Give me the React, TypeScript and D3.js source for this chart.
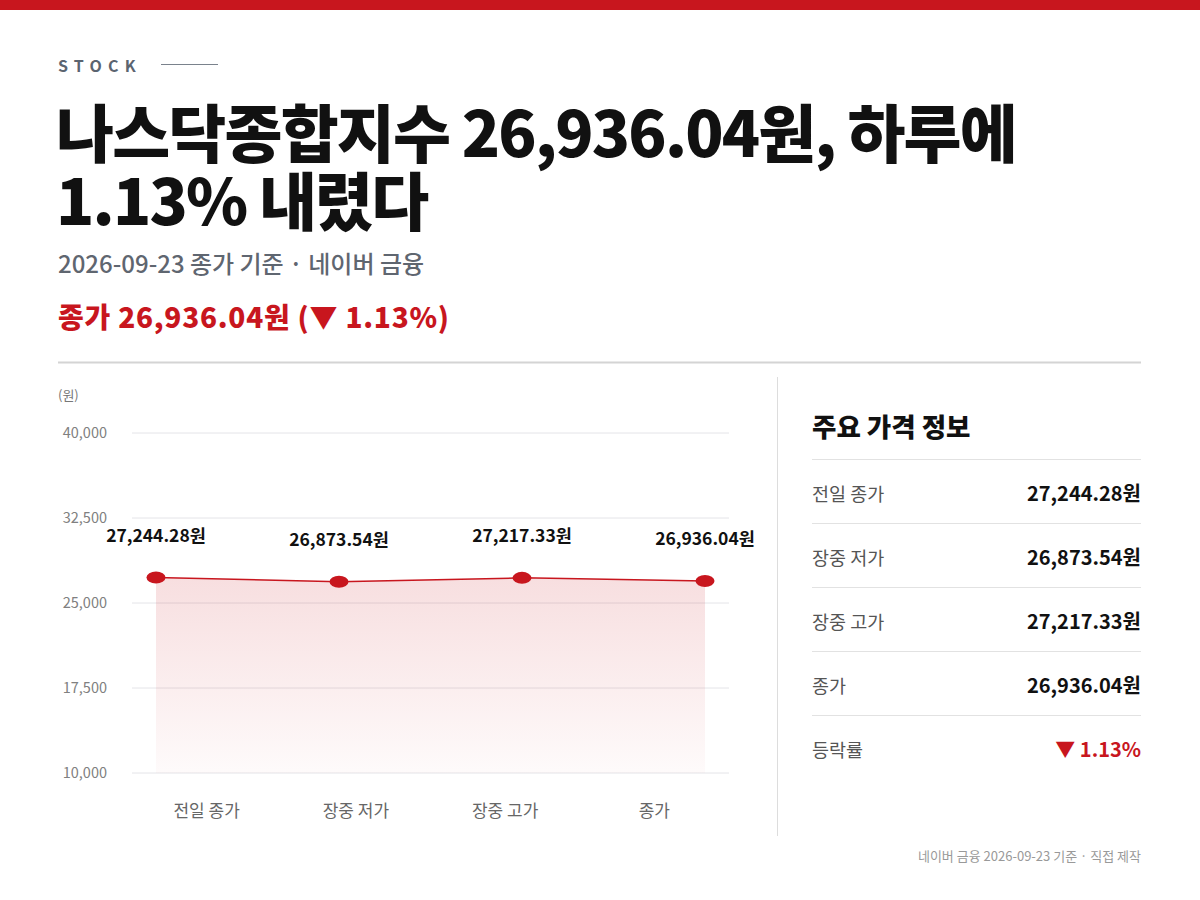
import React from "react";
import * as d3 from "d3";

const categories = ["전일 종가", "장중 저가", "장중 고가", "종가"];
const prices = [27244.28, 26873.54, 27217.33, 26936.04];
const priceLabels = ["27,244.28원", "26,873.54원", "27,217.33원", "26,936.04원"];
const yTicks = [10000, 17500, 25000, 32500, 40000];
const infoLabels = ["전일 종가", "장중 저가", "장중 고가", "종가", "등락률"];
const infoValues = ["27,244.28원", "26,873.54원", "27,217.33원", "26,936.04원", "▼ 1.13%"];
const titleLines = ["나스닥종합지수 26,936.04원, 하루에", "1.13% 내렸다"];
const subtitle = "2026-09-23 종가 기준 · 네이버 금융";
const headline = "종가 26,936.04원 (▼ 1.13%)";
const footer = "네이버 금융 2026-09-23 기준 · 직접 제작";

const RED = "#c8161e";
const FONT = "'Noto Sans CJK KR', 'Noto Sans', sans-serif";

export default function App() {
  const x0 = 132, x1 = 729, yTop = 433, yBot = 773;
  const y = d3.scaleLinear().domain([10000, 40000]).range([yBot, yTop]);
  const xp = d3.scalePoint<string>().domain(categories).range([156, 705]);
  const xb = d3.scaleBand<string>().domain(categories).range([x0, x1]);
  const pts = categories.map((c, i) => ({ c, v: prices[i] }));
  const line = d3.line<any>().x(d => xp(d.c)!).y(d => y(d.v));
  const area = d3.area<any>().x(d => xp(d.c)!).y0(yBot).y1(d => y(d.v));

  return (
    <div style={{ position: "absolute", left: 0, top: 0, width: 1200, height: 900, background: "#fff" }}>
      <svg width={1200} height={900} style={{ display: "block", fontFamily: FONT }}>
        <defs>
          <linearGradient id="areaGrad" x1="0" y1="0" x2="0" y2="1">
            <stop offset="0%" stopColor={RED} stopOpacity={0.14} />
            <stop offset="100%" stopColor={RED} stopOpacity={0.02} />
          </linearGradient>
        </defs>
        <rect x={0} y={0} width={1200} height={10} fill={RED} />
        <text x={58} y={72} fontSize={16} fontWeight={700} fill="#5b6470" letterSpacing={6.2}>STOCK</text>
        <line x1={161} x2={218} y1={64.5} y2={64.5} stroke="#7a828c" strokeWidth={1} />
        {titleLines.map((t, i) => (
          <text key={i} x={56} y={157 + i * 68} fontSize={63} fontWeight={900} fill="#111" letterSpacing={-1.8}>{t}</text>
        ))}
        <text x={58} y={273} fontSize={24} fontWeight={500} fill="#5f6670">{subtitle}</text>
        <text x={58} y={328} fontSize={28} fontWeight={800} fill={RED} letterSpacing={0.75}>{headline}</text>
        <line x1={58} x2={1141} y1={362.5} y2={362.5} stroke="#d4d4d4" strokeWidth={2} />

        {/* chart */}
        <text x={58} y={400} fontSize={13} fill="#777">(원)</text>
        {yTicks.map(t => (
          <g key={t}>
            <line x1={x0} x2={x1} y1={y(t)} y2={y(t)} stroke="#e4e4e8" strokeWidth={1} />
            <text x={107} y={y(t) + 5} fontSize={14.5} fill="#808080" textAnchor="end">{d3.format(",")(t)}</text>
          </g>
        ))}
        <path d={area(pts)!} fill="url(#areaGrad)" />
        <path d={line(pts)!} fill="none" stroke={RED} strokeWidth={1.5} />
        {pts.map((p, i) => (
          <g key={p.c}>
            <ellipse cx={xp(p.c)} cy={y(p.v)} rx={9.5} ry={6} fill={RED} />
            <text x={xp(p.c)} y={y(p.v) - 36} fontSize={17.5} fontWeight={700} fill="#111" textAnchor="middle">{priceLabels[i]}</text>
          </g>
        ))}
        {categories.map(c => (
          <text key={c} x={xb(c)! + xb.bandwidth() / 2} y={817} fontSize={17} fill="#666" textAnchor="middle">{c}</text>
        ))}

        <line x1={777.5} x2={777.5} y1={377} y2={836} stroke="#dddddd" strokeWidth={1} />

        {/* info panel */}
        <text x={812} y={437} fontSize={26.5} fontWeight={800} fill="#111">주요 가격 정보</text>
        <line x1={812} x2={1141} y1={459.5} y2={459.5} stroke="#e2e2e2" strokeWidth={1} />
        {infoLabels.map((l, i) => (
          <g key={l}>
            <text x={812} y={501 + i * 64} fontSize={18.5} fill="#555">{l}</text>
            <text x={1141} y={501 + i * 64} fontSize={20} fontWeight={700} fill={i === 4 ? RED : "#111"} textAnchor="end">{infoValues[i]}</text>
            {i < 4 && <line x1={812} x2={1141} y1={523.5 + i * 64} y2={523.5 + i * 64} stroke="#e2e2e2" strokeWidth={1} />}
          </g>
        ))}
        <text x={1141} y={861} fontSize={13} fill="#999" textAnchor="end">{footer}</text>
      </svg>
    </div>
  );
}
